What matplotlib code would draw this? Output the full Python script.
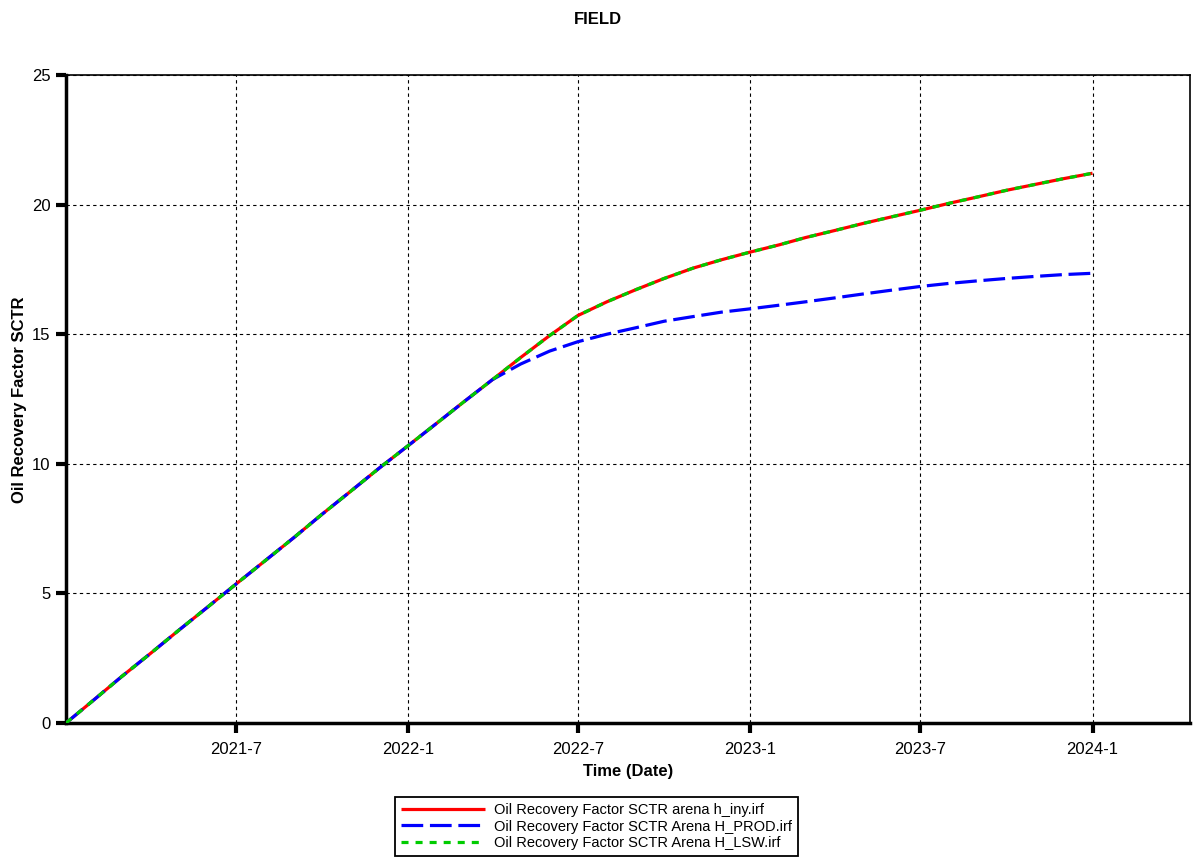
import matplotlib
matplotlib.use("Agg")
import matplotlib.pyplot as plt
import matplotlib.dates as mdates
import numpy as np
import datetime as dt

plt.rcParams['font.family'] = ['Liberation Sans', 'DejaVu Sans']

# ---- data (monthly) ----
months = [dt.date(2021 + (m // 12), m % 12 + 1, 1) for m in range(37)]
rf_iny = [0.00, 0.93, 1.78, 2.68, 3.57, 4.47, 5.35, 6.25, 7.15, 8.05, 8.95, 9.83,
          10.70, 11.58, 12.38, 13.25, 14.10, 14.95, 15.72, 16.25, 16.72, 17.15, 17.55, 17.87,
          18.17, 18.45, 18.73, 19.00, 19.27, 19.53, 19.78, 20.05, 20.30, 20.55, 20.78, 21.00,
          21.21]
rf_prod = [0.00, 0.93, 1.78, 2.68, 3.57, 4.47, 5.35, 6.25, 7.15, 8.05, 8.95, 9.83,
           10.70, 11.58, 12.38, 13.25, 13.85, 14.35, 14.71, 15.00, 15.25, 15.50, 15.68, 15.85,
           15.98, 16.12, 16.25, 16.40, 16.55, 16.70, 16.84, 16.96, 17.06, 17.15, 17.23, 17.30,
           17.35]
rf_lsw = list(rf_iny)

labels = ["Oil Recovery Factor SCTR arena h_iny.irf",
          "Oil Recovery Factor SCTR Arena H_PROD.irf",
          "Oil Recovery Factor SCTR Arena H_LSW.irf"]
xtick_dates = [dt.date(2021, 7, 1), dt.date(2022, 1, 1), dt.date(2022, 7, 1),
               dt.date(2023, 1, 1), dt.date(2023, 7, 1), dt.date(2024, 1, 1)]
xtick_labels = ["2021-7", "2022-1", "2022-7", "2023-1", "2023-7", "2024-1"]
yticks = [0, 5, 10, 15, 20, 25]

fig = plt.figure(figsize=(12.03, 8.64), dpi=100)
ax = fig.add_axes([66 / 1203, 1 - 723 / 864, (1190 - 66) / 1203, (723 - 75) / 864])

l1, = ax.plot(months, rf_iny, color='#ff0000', lw=2.3, solid_capstyle='butt', zorder=3)
l2, = ax.plot(months, rf_prod, color='#0000ff', lw=2.3, dashes=(6.8, 2.1), zorder=4)
l3, = ax.plot(months, rf_lsw, color='#00cc00', lw=2.3, dashes=(2.2, 2.2), zorder=5)

ax.set_xlim(dt.date(2021, 1, 1), dt.date(2024, 4, 14))
ax.set_ylim(0, 25)
ax.set_xticks(xtick_dates)
ax.set_xticklabels(xtick_labels)
ax.set_yticks(yticks)
ax.set_yticklabels([str(v) for v in yticks])
ax.grid(True, color='black', linestyle=(0, (3, 3)), linewidth=0.8)

for side in ['left', 'bottom']:
    ax.spines[side].set_linewidth(2.5)
for side in ['top', 'right']:
    ax.spines[side].set_linewidth(1.2)
ax.tick_params(axis='both', direction='out', length=7, width=3, labelsize=12, colors='black')
ax.tick_params(axis='x', pad=7)
ax.tick_params(axis='y', pad=4)

ax.set_xlabel("Time (Date)", fontsize=12, fontweight='bold', labelpad=5)
ax.set_ylabel("Oil Recovery Factor SCTR", fontsize=12, fontweight='bold')
ax.yaxis.set_label_coords((27 - 66) / 1124, (723 - 400) / 648)
fig.text(0.497, 1 - 19 / 864, "FIELD", ha='center', va='center', fontsize=12,
         fontweight='bold')

leg = fig.legend([l1, l2, l3], labels, loc='center', bbox_to_anchor=(596.5 / 1203, 1 - 826.5 / 864),
                 fontsize=10.5, frameon=True, fancybox=False, edgecolor='black', framealpha=1,
                 handlelength=5.8, labelspacing=0.15, borderpad=0.4, handletextpad=0.6)
leg.get_frame().set_linewidth(1.3)

fig.savefig("out.png", dpi=100)
